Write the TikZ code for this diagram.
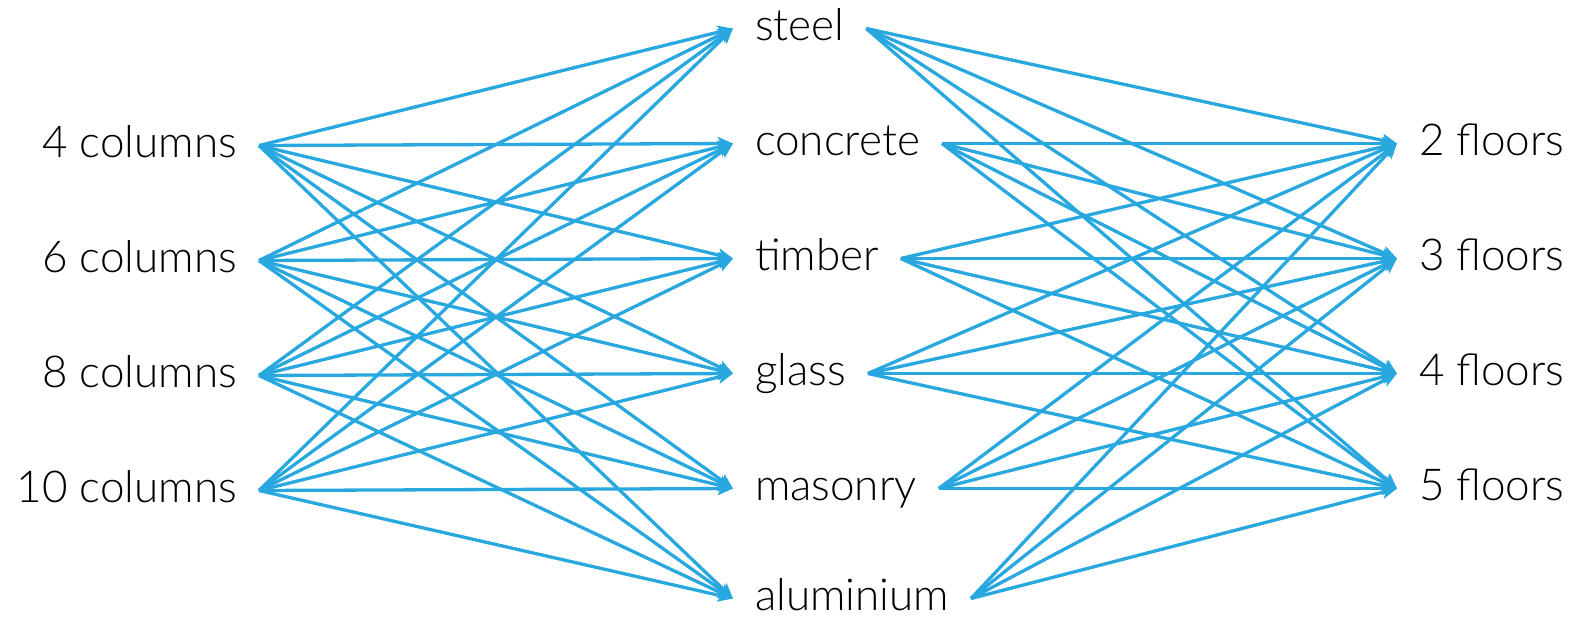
\documentclass[tikz,border=0pt]{standalone}
\usepackage{fontspec}
\setmainfont{Lato Light}
\usetikzlibrary{arrows.meta}
\definecolor{edgeblue}{HTML}{29A8E0}
\begin{document}
\begin{tikzpicture}[x=1pt,y=-1pt,
  lbl/.style={inner xsep=22pt, inner ysep=0pt, outer sep=0pt,
    text height=33pt, text depth=10pt,
    font=\fontsize{44}{53}\selectfont, text=black},
  link/.style={draw=edgeblue, line width=3.3pt,
    -{Stealth[length=15pt,width=13pt,inset=3pt]}}]
\useasboundingbox (0,0) rectangle (1578,622);
% left
\node[lbl, anchor=base east] (c4)  at (259,157) {4 columns};
\node[lbl, anchor=base east] (c6)  at (259,272) {6 columns};
\node[lbl, anchor=base east] (c8)  at (259,387) {8 columns};
\node[lbl, anchor=base east] (c10) at (259,502) {10 columns};
% middle
\node[lbl, anchor=base west] (steel)    at (733,40)  {steel};
\node[lbl, anchor=base west] (concrete) at (733,155) {concrete};
\node[lbl, anchor=base west] (timber)   at (733,270) {timber};
\node[lbl, anchor=base west] (glass)    at (733,385) {glass};
\node[lbl, anchor=base west] (masonry)  at (733,500) {masonry};
\node[lbl, anchor=base west] (alu)      at (733,610) {aluminium};
% right
\node[lbl, anchor=base west] (f2) at (1397,155) {2 floors};
\node[lbl, anchor=base west] (f3) at (1397,270) {3 floors};
\node[lbl, anchor=base west] (f4) at (1397,385) {4 floors};
\node[lbl, anchor=base west] (f5) at (1397,500) {5 floors};
% edges
\foreach \a in {c4,c6,c8,c10}
  \foreach \b in {steel,concrete,timber,glass,masonry,alu}
    \draw[link] (\a.east) -- (\b.west);
\foreach \a in {steel,concrete,timber,glass,masonry,alu}
  \foreach \b in {f2,f3,f4,f5}
    \draw[link] (\a.east) -- (\b.west);
\end{tikzpicture}
\end{document}
